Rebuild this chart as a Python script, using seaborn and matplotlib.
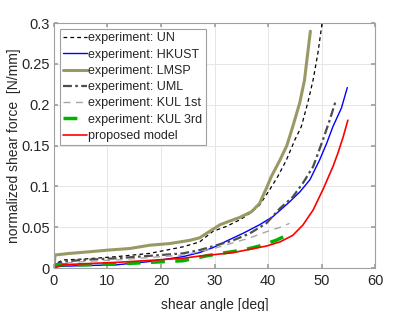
import numpy as np
import pandas as pd
import matplotlib
matplotlib.use("Agg")
import matplotlib.pyplot as plt
from matplotlib.ticker import FuncFormatter
import seaborn as sns

# data
un_x = [0, 0.5, 1.7, 5.5, 11.7, 17.9, 24.1, 27.2, 29.7, 32.2, 34.7, 36.6, 38.4, 40.3, 41.8, 43.4, 45.0, 46.2, 47.4, 48.4, 49.3, 50.2]
un_y = [0, 0.006, 0.010, 0.011, 0.014, 0.018, 0.026, 0.032, 0.045, 0.051, 0.059, 0.067, 0.077, 0.096, 0.112, 0.132, 0.157, 0.173, 0.202, 0.230, 0.263, 0.305]

hk_x = [0, 0.5, 5.5, 11.7, 17.9, 24.1, 27.2, 29.7, 32.2, 35.3, 38.4, 40.9, 44.0, 45.9, 47.8, 49.6, 50.9, 52.1, 53.7, 54.8]
hk_y = [0, 0.002, 0.003, 0.004, 0.008, 0.014, 0.019, 0.025, 0.033, 0.0425, 0.053, 0.063, 0.081, 0.093, 0.108, 0.132, 0.152, 0.173, 0.196, 0.221]

lm_x = [0, 0.2, 3, 6.7, 10.1, 14.2, 17.9, 21.6, 25.4, 27.2, 29.1, 31.0, 32.8, 34.7, 36.9, 38.4, 39.7, 40.6, 42.2, 43.5, 44.6, 45.9, 46.8, 47.4, 47.9]
lm_y = [0, 0.016, 0.018, 0.020, 0.022, 0.024, 0.028, 0.030, 0.034, 0.037, 0.045, 0.053, 0.0575, 0.062, 0.069, 0.079, 0.098, 0.112, 0.132, 0.150, 0.173, 0.202, 0.230, 0.263, 0.290]

um_x = [0, 1.7, 5.5, 11.7, 17.9, 24.1, 27.2, 30.4, 33.5, 36.6, 39.7, 42.2, 44.6, 46.5, 48.4, 49.3, 50.4, 51.5, 52.6]
um_y = [0.003, 0.008, 0.010, 0.012, 0.015, 0.018, 0.022, 0.028, 0.034, 0.0425, 0.055, 0.073, 0.087, 0.104, 0.124, 0.140, 0.160, 0.181, 0.204]

k1_x = [0, 1.7, 5.5, 11.7, 17.9, 24.1, 27.2, 30.4, 33.5, 36.6, 39.7, 42.2, 44.0]
k1_y = [0.002, 0.006, 0.008, 0.010, 0.013, 0.016, 0.020, 0.025, 0.031, 0.037, 0.0445, 0.0498, 0.0547]

k3_x = [0, 0.5, 5.5, 11.7, 17.9, 24.1, 28.5, 32.2, 35.3, 38.4, 41.5, 43.1]
k3_y = [0.003, 0.004, 0.004, 0.005, 0.007, 0.009, 0.015, 0.019, 0.022, 0.027, 0.034, 0.039]

pm_x = [0, 1.7, 5.5, 11.7, 17.9, 24.1, 27.2, 30.4, 33.5, 36.6, 39.7, 42.2, 44.6, 46.5, 48.4, 50.2, 52.1, 53.0, 54.0, 54.9]
pm_y = [0, 0.004, 0.0053, 0.007, 0.0094, 0.012, 0.0147, 0.0168, 0.019, 0.023, 0.027, 0.032, 0.040, 0.0527, 0.071, 0.0955, 0.124, 0.140, 0.160, 0.181]

sns.set_theme(style="white")
plt.rcParams['font.family'] = ['Liberation Sans', 'DejaVu Sans']

fig = plt.figure(figsize=(4.15, 3.11), dpi=100)
ax = fig.add_axes([0.130, 0.138, 0.774, 0.788])

series = [
    ("experiment: UN", un_x, un_y, dict(color="black", lw=0.9, ls=(0, (3, 2.5)))),
    ("experiment: HKUST", hk_x, hk_y, dict(color="#0000ff", lw=1.0, ls="-")),
    ("experiment: LMSP", lm_x, lm_y, dict(color="#999966", lw=2.2, ls="-")),
    ("experiment: UML", um_x, um_y, dict(color="#4d4d4d", lw=1.6, ls=(0, (4, 1.5, 1.2, 1.5)))),
    ("experiment: KUL 1st", k1_x, k1_y, dict(color="#a6a6a6", lw=1.0, ls=(0, (5, 4)))),
    ("experiment: KUL 3rd", k3_x, k3_y, dict(color="#00b300", lw=2.5, ls=(0, (4, 3)))),
    ("proposed model", pm_x, pm_y, dict(color="#ff0000", lw=1.2, ls="-")),
]

for name, xs, ys, st in series:
    sns.lineplot(x=xs, y=ys, ax=ax, label=name, sort=False, estimator=None,
                 color=st["color"], lw=st["lw"], ls=st["ls"])

ax.set_xlim(0, 60)
ax.set_ylim(0, 0.3)
ax.set_xticks(np.arange(0, 61, 10))
ax.set_yticks(np.arange(0, 0.301, 0.05))
ax.yaxis.set_major_formatter(FuncFormatter(lambda v, p: "%g" % round(v, 3)))
ax.grid(True, color="#e6e6e6", lw=0.7)
for s in ax.spines.values():
    s.set_color("#a0a0a0")
    s.set_linewidth(0.8)
ax.tick_params(direction="in", length=3, color="#a0a0a0", labelsize=10.5,
               labelcolor="#262626", top=True, right=True, bottom=True, left=True)
ax.tick_params(axis="x", pad=4.5)
ax.tick_params(axis="y", pad=3)
ax.set_xlabel("shear angle [deg]", fontsize=10, color="#262626", labelpad=7)
ax.set_ylabel("normalized shear force  [N/mm]", fontsize=10, color="#262626", labelpad=0)

leg = ax.legend(loc="upper left", fontsize=9, frameon=True, fancybox=False,
                framealpha=1, edgecolor="#a0a0a0", handlelength=1.9,
                handletextpad=0.1, labelspacing=0.34, borderpad=0.25,
                borderaxespad=0.5)
leg.get_frame().set_linewidth(0.8)

fig.savefig("out.png", dpi=100)
